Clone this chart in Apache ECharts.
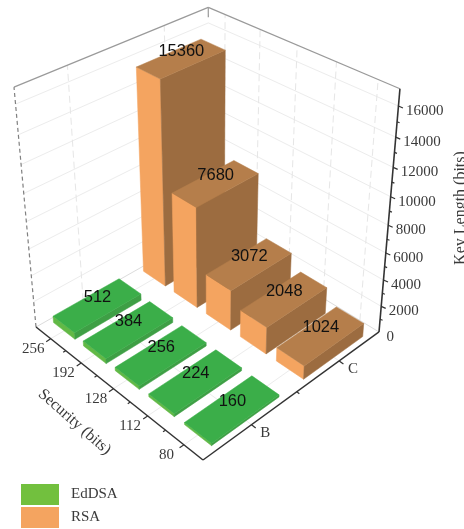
<!DOCTYPE html>
<html>
<head>
<meta charset="utf-8">
<style>html,body{margin:0;padding:0;background:#fff}#chart{width:464px;height:529px}</style>
<script src="https://cdn.jsdelivr.net/npm/echarts@6/dist/echarts.min.js"></script>
</head>
<body>
<div id="chart"></div>
<script>
// Key lengths per security level, grouped by signature scheme.
const securityBits = ['80', '112', '128', '192', '256'];
const schemeRows = ['B', 'C'];
const eddsaKeys = [160, 224, 256, 384, 512];
const rsaKeys = [1024, 2048, 3072, 7680, 15360];
const keyTicks = [0, 2000, 4000, 6000, 8000, 10000, 12000, 14000, 16000];
const keyMinorTicks = [1000, 3000, 5000, 7000, 9000, 11000, 13000, 15000];
const keyMax = 17090;

// Perspective camera: homogeneous image of the unit box (a: security, b: scheme, c: key length).
const ORIGIN = [203, 460, 1];
const AXIS_A = [-161.3, -81.3, 0.158];
const AXIS_B = [229.6, -81.1, 0.1414];
const AXIS_C = [-27.3, -289, -0.128];
function project(a, b, c) {
  const h = [0, 1, 2].map(i => ORIGIN[i] + a * AXIS_A[i] + b * AXIS_B[i] + c * AXIS_C[i]);
  return [h[0] / h[2], h[1] / h[2]];
}
const keyScale = v => v / keyMax;
const bandA = i => (i + 0.5) / securityBits.length;
const bandB = i => (i + 0.5) / schemeRows.length;
const HALF_A = 0.072;
const HALF_B = 0.18;

const SANS = '16.5px "Liberation Sans", Arial, sans-serif';
const SERIF = '15px "Liberation Serif", serif';
const TEXT_COLOR = '#3a3a3a';

function line(p, q, stroke, width, dash) {
  return {
    type: 'line', silent: true,
    shape: { x1: p[0], y1: p[1], x2: q[0], y2: q[1] },
    style: { stroke, lineWidth: width, lineDash: dash || null }
  };
}
function label(text, x, y, font, fill, align, rotation) {
  return {
    type: 'text', silent: true, x, y, rotation: rotation || 0,
    style: { text, font, fill, align: align || 'center', verticalAlign: 'middle' }
  };
}
function face(points, fill) {
  return { type: 'polygon', silent: true, shape: { points }, style: { fill, stroke: fill, lineWidth: 0.5 } };
}

// Walls, floor grid, edges, axes and their labels.
function renderFrame() {
  const kids = [];
  const GRID = '#ececec';
  const DASH = [7, 4];
  keyTicks.slice(1).forEach(v => {
    const c = keyScale(v);
    kids.push(line(project(1, 0, c), project(1, 1, c), GRID, 1));
    kids.push(line(project(1, 1, c), project(0, 1, c), GRID, 1));
  });
  [0.25, 0.75].forEach(b => {
    kids.push(line(project(1, b, 0), project(1, b, 1), '#e6e6e6', 1, DASH));
    kids.push(line(project(0, b, 0), project(1, b, 0), GRID, 1));
  });
  securityBits.forEach((s, i) => {
    const a = bandA(i);
    kids.push(line(project(a, 1, 0), project(a, 1, 1), '#e6e6e6', 1, DASH));
    kids.push(line(project(a, 0, 0), project(a, 1, 0), GRID, 1));
  });
  kids.push(line(project(1, 0, 0), project(1, 1, 0), '#dcdcdc', 1));
  kids.push(line(project(1, 1, 0), project(0, 1, 0), '#dcdcdc', 1));
  kids.push(line(project(1, 0, 1), project(1, 1, 1), '#9a9a9a', 1.2));
  kids.push(line(project(1, 1, 1), project(0, 1, 1), '#9a9a9a', 1.2));
  kids.push(line(project(1, 1, 1), project(1, 1, 0.96), '#9a9a9a', 1.2));
  kids.push(line(project(1, 0, 0), project(1, 0, 1), '#808080', 1.2, [4, 3]));

  // Floor axes
  const AXIS = '#333';
  kids.push(line(project(0, 0, 0), project(1, 0, 0), AXIS, 1.5));
  kids.push(line(project(0, 0, 0), project(0, 1, 0), AXIS, 1.5));
  kids.push(line(project(0, 1, 0), project(0, 1, 1), AXIS, 1.6));

  securityBits.forEach((s, i) => {
    const p = project(bandA(i), 0, 0);
    kids.push(line(p, [p[0] - 4.4, p[1] + 3], AXIS, 1.2));
    kids.push(label(s, p[0] - 17.5, p[1] + 10, SERIF, TEXT_COLOR));
    if (i > 0) {
      const m = project(i / securityBits.length, 0, 0);
      kids.push(line(m, [m[0] - 2.5, m[1] + 1.7], AXIS, 1.2));
    }
  });
  schemeRows.forEach((s, i) => {
    const p = project(0, bandB(i), 0);
    kids.push(line(p, [p[0] + 4.2, p[1] + 3.2], AXIS, 1.2));
    kids.push(label(s, p[0] + 13.7, p[1] + 8, SERIF, TEXT_COLOR));
  });
  const mid = project(0, 0.5, 0);
  kids.push(line(mid, [mid[0] + 2.5, mid[1] + 1.9], AXIS, 1.2));

  keyTicks.forEach(v => {
    const p = project(0, 1, keyScale(v));
    if (v > 0) kids.push(line(p, [p[0] + 4.5, p[1] + 2], AXIS, 1.2));
    kids.push(label(String(v), p[0] + 7.5, p[1] + 5.2, SERIF, TEXT_COLOR, 'left'));
  });
  keyMinorTicks.forEach(v => {
    const p = project(0, 1, keyScale(v));
    kids.push(line(p, [p[0] + 2.5, p[1] + 1], AXIS, 1.2));
  });

  kids.push(label('Security (bits)', 74.5, 422, '16px "Liberation Serif", serif', TEXT_COLOR, 'center', -0.72));
  kids.push(label('Key Length (bits)', 461, 208, '16px "Liberation Serif", serif', TEXT_COLOR, 'center', Math.PI / 2));
  return { type: 'group', children: kids };
}

// One cuboid: front-left face, long right face, top, then its value above the top.
function renderBar(api, colors) {
  const ai = api.value(0), bi = api.value(1), v = api.value(2);
  const a = bandA(ai), b = bandB(bi), c = keyScale(v);
  const a0 = a - HALF_A, a1 = a + HALF_A, b0 = b - HALF_B, b1 = b + HALF_B;
  const kids = [
    face([project(a0, b0, 0), project(a1, b0, 0), project(a1, b0, c), project(a0, b0, c)], colors.left),
    face([project(a0, b0, 0), project(a0, b1, 0), project(a0, b1, c), project(a0, b0, c)], colors.right),
    face([project(a0, b0, c), project(a1, b0, c), project(a1, b1, c), project(a0, b1, c)], colors.top)
  ];
  const t = project(a, b, c);
  kids.push(label(String(v), t[0], t[1] - 7.5, SANS, '#111'));
  return { type: 'group', children: kids };
}

// Cuboids are painted far to near, so rows are listed from the largest security level down.
const depthOrder = securityBits.map((s, i) => securityBits.length - 1 - i);
const rsaData = depthOrder.map(i => [i, 1, rsaKeys[i]]);
const eddsaData = depthOrder.map(i => [i, 0, eddsaKeys[i]]);

const RSA_COLORS = { left: '#F4A460', right: '#9C6C40', top: '#B57E4B' };
const EDDSA_COLORS = { left: '#62B946', right: '#3E9F45', top: '#3BAE49' };

const chart = echarts.init(document.getElementById('chart'), null, { renderer: 'canvas' });
chart.setOption({
  animation: false,
  backgroundColor: '#fff',
  legend: {
    orient: 'vertical', left: 21, top: 484, itemWidth: 38, itemHeight: 21, itemGap: 2,
    icon: 'rect', selectedMode: false, padding: 0, itemStyle: { borderWidth: 0 },
    textStyle: { fontFamily: '"Liberation Serif", serif', fontSize: 15, color: TEXT_COLOR, padding: [0, 0, 0, 7] },
    data: ['EdDSA', 'RSA']
  },
  series: [
    { type: 'custom', name: 'frame', coordinateSystem: 'none', silent: true, data: [[0]], renderItem: renderFrame, z: 1 },
    { type: 'custom', name: 'RSA', coordinateSystem: 'none', silent: true, data: rsaData, color: '#F4A460',
      itemStyle: { color: '#F4A460' }, renderItem: (p, api) => renderBar(api, RSA_COLORS), z: 2 },
    { type: 'custom', name: 'EdDSA', coordinateSystem: 'none', silent: true, data: eddsaData, color: '#72C03E',
      itemStyle: { color: '#72C03E' }, renderItem: (p, api) => renderBar(api, EDDSA_COLORS), z: 3 }
  ]
});
</script>
</body>
</html>
